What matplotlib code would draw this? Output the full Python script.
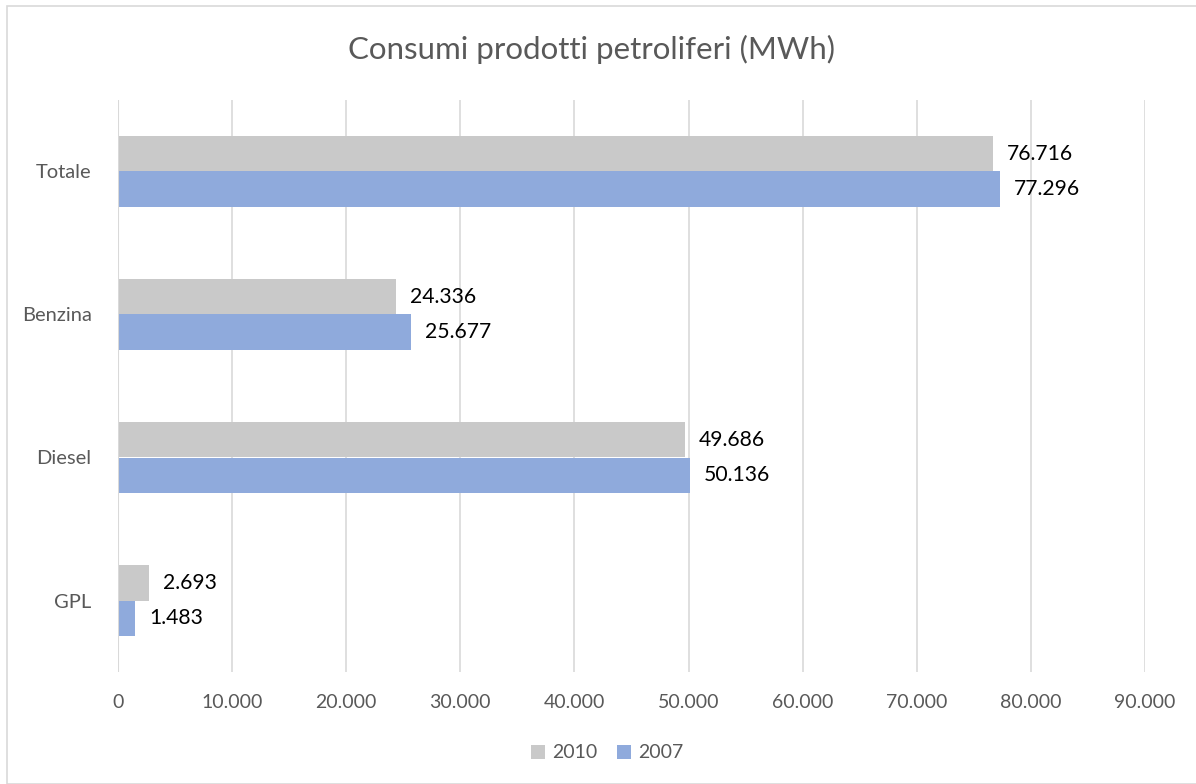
import matplotlib
matplotlib.use("Agg")
import matplotlib.pyplot as plt
from matplotlib.patches import Rectangle
from matplotlib.ticker import FuncFormatter
import numpy as np

categories = ["GPL", "Diesel", "Benzina", "Totale"]
values_2010 = [2693, 49686, 24336, 76716]
values_2007 = [1483, 50136, 25677, 77296]
series_names = ["2010", "2007"]
xticks = list(range(0, 90001, 10000))

c2010 = "#C9C9C9"
c2007 = "#8FAADC"
txt = "#595959"
font = "Lato"

plt.rcParams['font.family'] = [font, 'DejaVu Sans']

fig = plt.figure(figsize=(11.96, 7.84), dpi=100)
fig.patches.append(Rectangle((7/1196, 0), 1.2, 1 - 6/784, transform=fig.transFigure,
                             fill=False, edgecolor="#D9D9D9", linewidth=1.2))
ax = fig.add_axes([118/1196, 1 - 672/784, (1145 - 118)/1196, (672 - 100)/784])

y = np.arange(len(categories))
h = 0.245
b1 = ax.barh(y + h/2, values_2010, height=h, color=c2010, label=series_names[0], zorder=3)
b2 = ax.barh(y - h/2, values_2007, height=h, color=c2007, label=series_names[1], zorder=3)

def fmt(v):
    return f"{v:,.0f}".replace(",", ".")

for bars in (b1, b2):
    for r in bars:
        w = r.get_width()
        ax.annotate(fmt(w), (w, r.get_y() + r.get_height()/2), xytext=(10, 0),
                    textcoords="offset points", va="center", ha="left",
                    fontsize=15.2, color="black", family=[font, 'DejaVu Sans'])

ax.set_xlim(0, 90000)
ax.set_ylim(-0.5, len(categories) - 0.5)
ax.set_xticks(xticks)
ax.xaxis.set_major_formatter(FuncFormatter(lambda v, p: fmt(v)))
ax.set_yticks(y)
ax.set_yticklabels(categories)
ax.tick_params(axis="both", length=0, colors=txt)
ax.tick_params(axis="x", pad=16, labelsize=14)
ax.tick_params(axis="y", pad=19, labelsize=14.5)
ax.grid(axis="x", color="#D9D9D9", linewidth=1.2, zorder=0)
for s in ax.spines.values():
    s.set_visible(False)
ax.axvline(0, color="#D9D9D9", linewidth=1.5, zorder=4)

fig.text(592/1196, 1 - 49/784, "Consumi prodotti petroliferi (MWh)", ha="center", va="center",
         fontsize=22.5, color=txt)

leg = fig.legend(handles=[b1, b2], labels=series_names, loc="center", bbox_to_anchor=(607/1196, 1 - 753/784),
                 ncol=2, frameon=False, fontsize=14, handlelength=0.75, handleheight=0.75,
                 columnspacing=1.0, handletextpad=0.35)
for t in leg.get_texts():
    t.set_color(txt)

fig.savefig("out.png", dpi=100)
